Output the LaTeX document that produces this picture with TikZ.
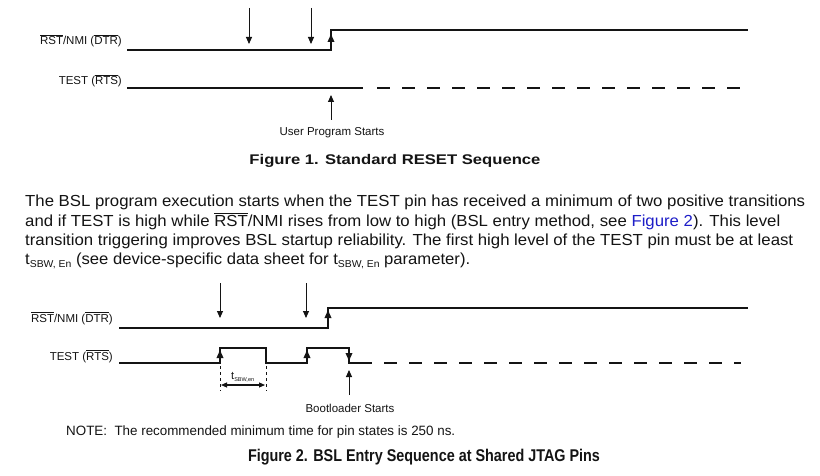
\documentclass[tikz,border=0pt]{standalone}
\usepackage{fontspec}
\setmainfont{Liberation Sans}
\usetikzlibrary{arrows.meta}
\definecolor{figblue}{RGB}{30,30,200}
\definecolor{ink}{RGB}{20,20,20}
\newcommand\ovl[1]{$\overline{\mbox{#1}}$}
\newcommand\fitw[2]{\resizebox{#1}{\height}{#2}}
\tikzset{
  wave/.style={line width=1.7pt, color=ink, line join=miter},
  wavedash/.style={line width=1.7pt, color=ink, dash pattern=on 13pt off 12pt},
  arr/.style={line width=0.9pt, color=ink, -{Triangle[length=7pt,width=6pt]}},
  edgetip/.style={line width=1.7pt, color=ink, -{Triangle[length=8pt,width=6.5pt]}},
  dbl/.style={line width=1.1pt, color=ink, {Triangle[length=6pt,width=5pt]}-{Triangle[length=6pt,width=5pt]}},
  guide/.style={line width=0.8pt, color=ink, dash pattern=on 3pt off 3pt},
  lbl/.style={font=\fontsize{11.5}{13}\selectfont, inner sep=0pt, text=ink},
  para/.style={font=\fontsize{16}{18}\selectfont, inner sep=0pt, text=ink, anchor=base west},
  ttl/.style={font=\bfseries\fontsize{14}{16}\selectfont, inner sep=0pt, text=ink, anchor=base},
}
\begin{document}
\begin{tikzpicture}[x=1pt,y=-1pt]
\useasboundingbox[fill=white] (0,0) rectangle (820,476);

% ---------------- Figure 1 ----------------
\node[lbl, anchor=base east] (r1lbl) at (122,45) {\ovl{RST}/NMI (\ovl{DTR})};
\node[lbl, anchor=base east] (t1lbl) at (122,85) {TEST (\ovl{RTS})};

\coordinate (r1a) at (127,50);
\coordinate (r1b) at (331,50);
\coordinate (r1c) at (331,30);
\coordinate (r1d) at (748,30);
\draw[wave] (r1a) -- (r1b) -- (r1c) -- (r1d);
\coordinate (r1e) at (331,46);
\coordinate (r1f) at (331,34);
\draw[edgetip] (r1e) -- (r1f);

\coordinate (t1a) at (127,88);
\coordinate (t1b) at (363,88);
\coordinate (t1c) at (377,88);
\coordinate (t1d) at (741,88);
\draw[wave] (t1a) -- (t1b);
\draw[wavedash] (t1c) -- (t1d);

\coordinate (d1s) at (249,8);
\coordinate (d1e) at (249,44);
\coordinate (d2s) at (311,8);
\coordinate (d2e) at (311,44);
\draw[arr] (d1s) -- (d1e);
\draw[arr] (d2s) -- (d2e);

\coordinate (u1s) at (331,120);
\coordinate (u1e) at (331,95);
\draw[arr] (u1s) -- (u1e);
\node[lbl, anchor=base] (ups) at (332,136) {User Program Starts};

\node[ttl] (fig1) at (395,165) {\fitw{291pt}{Figure 1. Standard RESET Sequence}};

% ---------------- Paragraph ----------------
\node[para] (p1) at (25,207) {\fitw{780pt}{The BSL program execution starts when the TEST pin has received a minimum of two positive transitions}};
\node[para] (p2) at (25,226) {\fitw{755pt}{and if TEST is high while \ovl{RST}/NMI rises from low to high (BSL entry method, see \textcolor{figblue}{Figure 2}). This level}};
\node[para] (p3) at (25,245) {\fitw{768pt}{transition triggering improves BSL startup reliability. The first high level of the TEST pin must be at least}};
\node[para] (p4) at (25,264) {\fitw{445pt}{t\raisebox{-3pt}{\fontsize{10}{10}\selectfont SBW, En} (see device-specific data sheet for t\raisebox{-3pt}{\fontsize{10}{10}\selectfont SBW, En} parameter).}};

% ---------------- Figure 2 ----------------
\node[lbl, anchor=base east] (r2lbl) at (113,322) {\ovl{RST}/NMI (\ovl{DTR})};
\node[lbl, anchor=base east] (t2lbl) at (113,360) {TEST (\ovl{RTS})};

\coordinate (r2a) at (119,328);
\coordinate (r2b) at (328,328);
\coordinate (r2c) at (328,308);
\coordinate (r2d) at (748,308);
\draw[wave] (r2a) -- (r2b) -- (r2c) -- (r2d);
\coordinate (r2e) at (328,324);
\coordinate (r2f) at (328,310);
\draw[edgetip] (r2e) -- (r2f);

\coordinate (t2a) at (119,363);
\coordinate (t2b) at (220,363);
\coordinate (t2c) at (220,348);
\coordinate (t2d) at (266,348);
\coordinate (t2e) at (266,363);
\coordinate (t2f) at (307,363);
\coordinate (t2g) at (307,348);
\coordinate (t2h) at (349,348);
\coordinate (t2i) at (349,363);
\coordinate (t2j) at (372,363);
\coordinate (t2k) at (384,363);
\coordinate (t2l) at (741,363);
\draw[wave] (t2a) -- (t2b) -- (t2c) -- (t2d) -- (t2e) -- (t2f) -- (t2g) -- (t2h) -- (t2i) -- (t2j);
\draw[wavedash] (t2k) -- (t2l);

\coordinate (e1s) at (220,362);
\coordinate (e1e) at (220,350);
\draw[edgetip] (e1s) -- (e1e);
\coordinate (e2s) at (307,362);
\coordinate (e2e) at (307,350);
\draw[edgetip] (e2s) -- (e2e);
\coordinate (e3s) at (349,349);
\coordinate (e3e) at (349,361);
\draw[edgetip] (e3s) -- (e3e);

\coordinate (d3s) at (220,283);
\coordinate (d3e) at (220,318);
\coordinate (d4s) at (306,283);
\coordinate (d4e) at (306,318);
\draw[arr] (d3s) -- (d3e);
\draw[arr] (d4s) -- (d4e);

\coordinate (g1a) at (220,366);
\coordinate (g1b) at (220,391);
\coordinate (g2a) at (266,366);
\coordinate (g2b) at (266,391);
\draw[guide] (g1a) -- (g1b);
\draw[guide] (g2a) -- (g2b);
\coordinate (w1) at (221,385);
\coordinate (w2) at (265,385);
\draw[dbl] (w1) -- (w2);
\node[inner sep=0pt, anchor=base west, text=ink, font=\fontsize{11}{12}\selectfont] (tsbw) at (231,379) {t\raisebox{-2.5pt}{\fontsize{5.5}{6}\selectfont SBW,en}};

\coordinate (u2s) at (349,395);
\coordinate (u2e) at (349,370);
\draw[arr] (u2s) -- (u2e);
\node[lbl, anchor=base] (bls) at (350,412) {Bootloader Starts};

\node[inner sep=0pt, anchor=base west, text=ink, font=\fontsize{13.5}{15}\selectfont] (note) at (66,435) {\fitw{389pt}{NOTE:\ \ The recommended minimum time for pin states is 250 ns.}};

\node[ttl, font=\bfseries\fontsize{17}{19}\selectfont] (fig2) at (424,461) {\fitw{352pt}{Figure 2. BSL Entry Sequence at Shared JTAG Pins}};
\end{tikzpicture}
\end{document}
